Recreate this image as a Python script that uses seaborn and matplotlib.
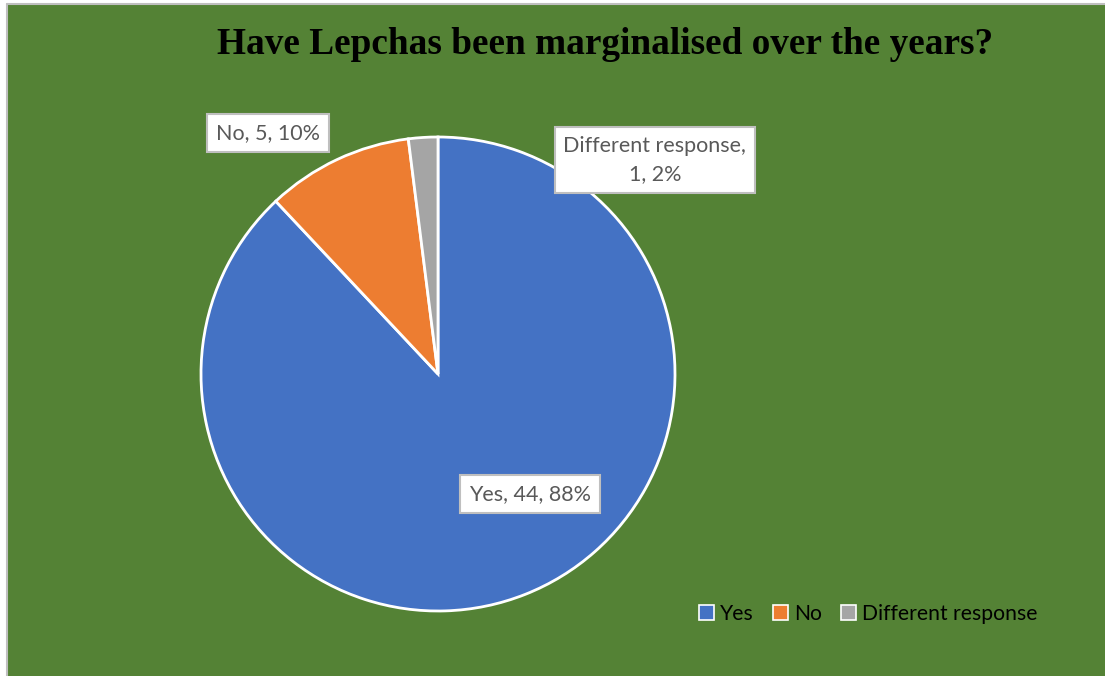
import matplotlib
matplotlib.use("Agg")
import matplotlib.pyplot as plt
from matplotlib.patches import Rectangle, Patch
from matplotlib.lines import Line2D
import seaborn as sns

categories = ["Yes", "No", "Different response"]
counts = [44, 5, 1]
percents = [88, 10, 2]
colors = ["#4472C4", "#ED7D31", "#A5A5A5"]
title = "Have Lepchas been marginalised over the years?"

sns.set_theme(style="white")
plt.rcParams["font.family"] = ["Lato", "DejaVu Sans"]

W, H = 1105, 676
fig = plt.figure(figsize=(W / 100, H / 100), dpi=100, facecolor="white")

# green chart area, framed by a thin grey line on the top and left
bg = Rectangle((7 / W, 0), 1, 1 - 4 / H, transform=fig.transFigure,
               facecolor="#548235", edgecolor="none", zorder=-10)
fig.patches.append(bg)
for xs, ys in [([7 / W, 1], [1 - 4 / H, 1 - 4 / H]), ([7 / W, 7 / W], [0, 1 - 4 / H])]:
    fig.lines.append(Line2D(xs, ys, transform=fig.transFigure, color="#BFBFBF",
                            linewidth=1.5, zorder=-9))

fig.text(605 / W, 1 - 45 / H, title, ha="center", va="center",
         family="Liberation Serif", fontweight="bold", fontsize=26.8, color="black")

cx, cy, r = 438, 374, 237
ax = fig.add_axes([(cx - r) / W, (H - cy - r) / H, 2 * r / W, 2 * r / H])
ax.set_facecolor("none")
wedges, _ = ax.pie(counts, colors=colors, startangle=90, counterclock=False,
                   wedgeprops=dict(edgecolor="white", linewidth=2))
ax.set_xlim(-1, 1)
ax.set_ylim(-1, 1)
ax.set_aspect("equal")
ax.axis("off")

label_pos = [(0.388, -0.506), (-0.717, 1.017), (0.915, 0.903)]
for cat, n, p, (lx, ly) in zip(categories, counts, percents, label_pos):
    txt = f"{cat}, {n}, {p}%" if cat != "Different response" else f"{cat},\n{n}, {p}%"
    ax.text(lx, ly, txt, ha="center", va="center", fontsize=15.5, color="#595959",
            linespacing=1.5, clip_on=False,
            bbox=dict(boxstyle="square,pad=0.4", facecolor="white",
                      edgecolor="#BFBFBF", linewidth=1.5))

handles = [Patch(facecolor=c, edgecolor="white", linewidth=1.2) for c in colors]
leg = fig.legend(handles, categories, loc="center left",
                 bbox_to_anchor=(680 / W, 1 - 614 / H), ncol=3, frameon=False,
                 fontsize=15.2, handlelength=0.7, handleheight=0.7,
                 handletextpad=0.3, columnspacing=0.9, labelcolor="black")

fig.savefig("out.png", dpi=100, facecolor="white")
